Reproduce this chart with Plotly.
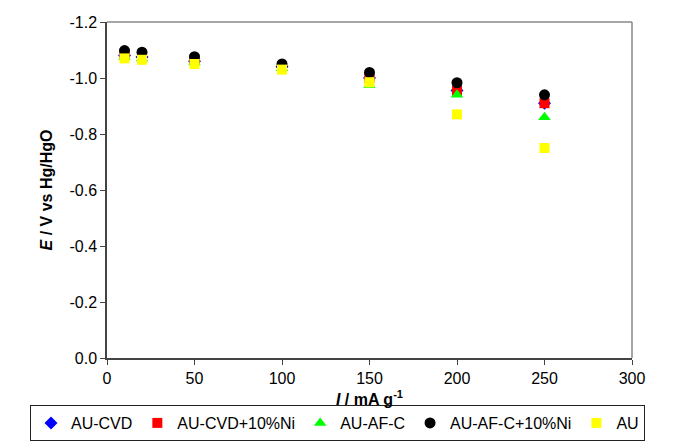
import plotly.graph_objects as go

current = [10, 20, 50, 100, 150, 200, 250]
au_cvd = [-1.08, -1.075, -1.06, -1.04, -1.0, -0.955, -0.91]
au_cvd_ni = [-1.085, -1.08, -1.065, -1.04, -1.0, -0.955, -0.91]
au_af_c = [-1.075, -1.07, -1.055, -1.035, -0.975, -0.94, -0.86]
au_af_c_ni = [-1.098, -1.092, -1.076, -1.05, -1.02, -0.983, -0.94]
au = [-1.07, -1.065, -1.05, -1.03, -0.985, -0.87, -0.75]

x_ticks = [0, 50, 100, 150, 200, 250, 300]
y_ticks = [0, -0.2, -0.4, -0.6, -0.8, -1.0, -1.2]
y_ticktext = ["0.0", "-0.2", "-0.4", "-0.6", "-0.8", "-1.0", "-1.2"]

series = [
    ("AU-CVD", au_cvd, "#0000FF", "diamond", 10),
    ("AU-CVD+10%Ni", au_cvd_ni, "#FF0000", "square", 10),
    ("AU-AF-C", au_af_c, "#00FF00", "triangle-up", 11),
    ("AU-AF-C+10%Ni", au_af_c_ni, "#000000", "circle", 11),
    ("AU", au, "#FFFF00", "square", 10),
]

fig = go.Figure()
for name, ys, color, sym, size in series:
    fig.add_trace(go.Scatter(
        x=current, y=ys, mode="markers", name=name,
        marker=dict(color=color, symbol=sym, size=size, line=dict(width=0)),
    ))

font = "Liberation Sans, Arial, sans-serif"
axis_common = dict(
    showgrid=False, zeroline=False, showline=True, linecolor="#444",
    linewidth=1.5, mirror=False, ticks="outside", ticklen=5, tickcolor="#444",
    tickwidth=1, tickfont=dict(size=16),
)
fig.update_layout(
    width=680, height=448,
    margin=dict(l=107, r=48, t=22, b=90, autoexpand=False),
    plot_bgcolor="white", paper_bgcolor="white",
    font=dict(family=font, size=16, color="black"),
    showlegend=True,
    legend=dict(
        orientation="h", xref="paper", yref="paper",
        x=(30 - 107) / 525, xanchor="left", y=(358 - 405) / 336, yanchor="top",
        bordercolor="#222", borderwidth=1, font=dict(size=16),
        itemsizing="trace", tracegroupgap=0, bgcolor="white",
    ),
    xaxis=dict(
        range=[0, 300], tickvals=x_ticks, **axis_common,
        title=dict(text="<b><i>I</i> / mA g<sup>-1</sup></b>", standoff=8, font=dict(size=16)),
    ),
    yaxis=dict(
        range=[0, -1.2], tickvals=y_ticks, ticktext=y_ticktext, **axis_common,
        title=dict(text="<b><i>E</i> / V vs Hg/HgO</b>", standoff=13, font=dict(size=16)),
    ),
    shapes=[
        dict(type="line", xref="paper", yref="paper", x0=0, x1=1, y0=1, y1=1,
             line=dict(color="#888", width=1.5)),
        dict(type="line", xref="paper", yref="paper", x0=1, x1=1, y0=0, y1=1,
             line=dict(color="#888", width=1.5)),
    ],
)

fig.write_html("out.html")
